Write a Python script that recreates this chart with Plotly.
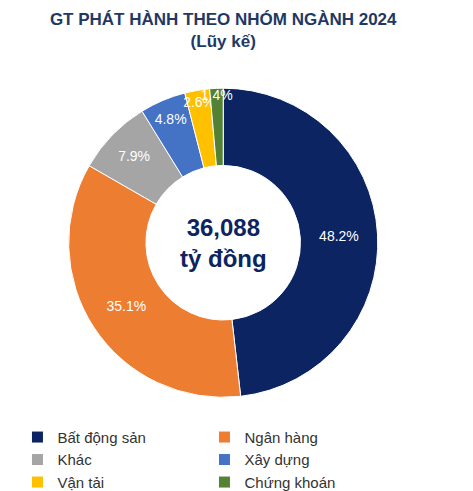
import plotly.graph_objects as go

labels = ['Bất động sản', 'Ngân hàng', 'Khác', 'Xây dựng', 'Vận tải', 'Chứng khoán']
values = [48.2, 35.1, 7.9, 4.8, 2.6, 1.4]
colors = ['#0c2461', '#ed7d31', '#a5a5a5', '#4472c4', '#ffc000', '#548235']
text = [f'{v}%' for v in values]

fig = go.Figure(go.Pie(
    labels=labels, values=values, text=text,
    textinfo='text', textposition='inside', insidetextorientation='horizontal',
    textfont=dict(color='white', size=14, family='Liberation Sans'),
    marker=dict(colors=colors, line=dict(color='white', width=1)),
    hole=0.5, sort=False, direction='clockwise', rotation=0,
    domain=dict(x=[0.12, 0.79], y=[0.189, 0.833]),
))

fig.update_layout(
    width=473, height=491,
    margin=dict(l=0, r=0, t=0, b=0),
    paper_bgcolor='white',
    uniformtext=dict(minsize=14, mode='show'),
    title=dict(text='<b>GT PHÁT HÀNH THEO NHÓM NGÀNH 2024<br>(Lũy kế)</b>',
               x=0.455, y=0.965, xanchor='center', yanchor='top',
               font=dict(size=17, color='#1f3864', family='Liberation Sans')),
    annotations=[dict(text='<b>36,088<br>tỷ đồng</b>', x=0.455, y=0.511,
                      xref='paper', yref='paper', showarrow=False,
                      font=dict(size=24, color='#0c2461', family='Liberation Sans'))],
    legend=dict(orientation='h', x=0.02, y=0.14, xanchor='left', yanchor='top',
                entrywidth=142, entrywidthmode='pixels', traceorder='normal',
                font=dict(size=15, color='#333333', family='Liberation Sans')),
)

fig.write_html('out.html')
